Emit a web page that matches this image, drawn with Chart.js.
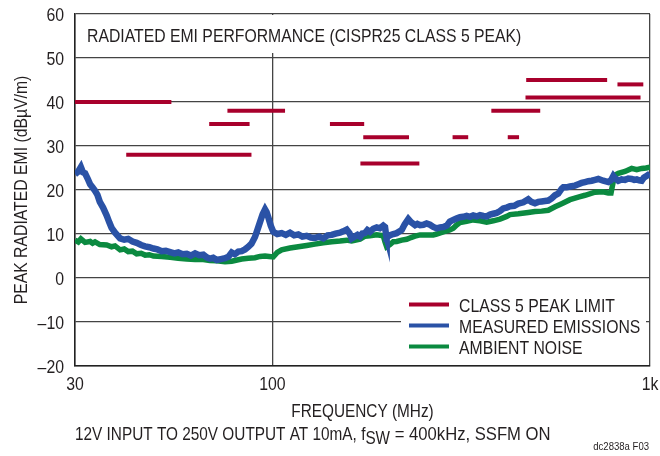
<!DOCTYPE html>
<html>
<head>
<meta charset="utf-8">
<script src="https://cdn.jsdelivr.net/npm/chart.js@4/dist/chart.umd.min.js"></script>
<style>
  html, body { margin: 0; padding: 0; background: #fff; }
  #chart-emi { display: block; }
</style>
</head>
<body>
<canvas id="chart-emi" width="660" height="456"></canvas>
<script>
// CISPR25 class 5 peak limit segments (MHz, dBuV/m)
const limitStart = [30, 41, 68, 76, 142, 171, 174, 300, 380, 420, 468, 470, 820];
const limitEnd   = [54, 88, 87, 108, 175, 245, 230, 330, 512, 450, 944, 770, 960];
const limitLevel = [40, 28, 35, 38, 35, 26, 32, 32, 38, 32, 41, 45, 44];

// measured emissions
const measuredFreq = [30, 30.6, 31.1, 31.5, 31.9, 32.4, 32.9, 33.4, 33.9, 34.4, 34.9, 35.6, 36.4, 37.0, 37.5, 38.3, 39.5, 40.5, 41.5, 42.6, 43.7, 44.9, 46.0, 47.2, 48.4, 49.6, 50.9, 52.2, 53.6, 55.0, 56.3, 57.8, 59.3, 60.8, 62.4, 64.0, 65.6, 67.0, 68.3, 69.7, 71.2, 73.0, 74.9, 76.4, 78.0, 79.5, 81.2, 82.9, 84.6, 86.3, 88.0, 89.9, 91.3, 92.7, 94.2, 95.6, 96.5, 97.5, 99.0, 100.5, 103, 105.8, 108.5, 111.3, 114.2, 117.1, 120, 123.2, 126.4, 129.6, 133, 136.4, 140, 143.5, 147, 151, 154, 157.3, 160, 162.1, 165, 168, 170.6, 173, 175.8, 178.5, 181.3, 185, 188.9, 192.5, 196.6, 198.7, 200, 200.7, 204.8, 209, 213.4, 220, 224, 229, 232.8, 238.6, 242, 246, 251, 256, 261.4, 266.7, 272.3, 278, 283.5, 289.5, 295, 301.3, 307, 313.8, 320, 326.9, 333.5, 340.3, 347.5, 354.5, 362, 369.3, 377, 384.5, 392.6, 400.6, 408.8, 417.3, 425.8, 437, 447.9, 462, 476, 485, 495.8, 506, 516.5, 527, 537.8, 548.8, 560.2, 571.6, 583.6, 589.3, 601, 613.9, 632.9, 645.8, 659, 672.7, 686, 700.8, 715, 729.5, 752, 775.5, 788.4, 799.6, 807.9, 824.3, 841, 858.6, 876, 894.4, 908, 922.3, 936, 950.6, 963, 976, 988, 1000];
const measuredLevel = [23.6, 24.2, 25.2, 24.0, 23.8, 22.6, 21.3, 20.6, 19.8, 18.9, 17.3, 16.0, 14.2, 12.6, 11.4, 10.3, 9.0, 8.7, 8.9, 8.3, 8.0, 7.5, 7.2, 7.0, 6.7, 6.5, 6.1, 6.2, 5.9, 5.6, 5.8, 5.4, 5.5, 5.1, 5.6, 5.2, 5.3, 4.7, 4.4, 4.6, 4.1, 4.3, 4.5, 4.8, 5.8, 5.4, 6.0, 6.1, 6.5, 7.1, 7.8, 9.3, 11.0, 12.7, 14.5, 15.6, 15.0, 13.8, 11.9, 10.5, 10.0, 10.2, 9.8, 10.3, 9.7, 9.9, 9.4, 9.6, 9.2, 9.1, 9.4, 9.0, 9.7, 9.8, 10.1, 10.3, 10.6, 11.0, 10.2, 9.0, 9.4, 9.8, 9.4, 10.1, 10.2, 10.9, 10.5, 11.2, 11.5, 11.3, 11.9, 11.6, 9.8, 9.3, 9.7, 10.0, 10.2, 10.9, 12.2, 13.4, 12.7, 12.0, 12.3, 12.0, 12.1, 12.4, 12.1, 11.6, 11.3, 11.5, 11.6, 11.9, 12.8, 13.2, 13.5, 13.8, 13.9, 14.1, 13.9, 14.2, 14.0, 14.3, 14.1, 14.0, 14.4, 14.6, 14.8, 15.2, 15.8, 16.0, 16.3, 16.4, 16.9, 17.2, 17.9, 17.3, 17.0, 17.3, 17.4, 17.5, 17.6, 18.1, 18.8, 19.2, 20.3, 20.6, 20.6, 20.8, 21.0, 21.3, 21.6, 21.8, 22.0, 22.1, 22.3, 22.5, 22.1, 21.8, 22.2, 23.2, 22.7, 22.1, 22.4, 22.3, 22.6, 22.5, 22.3, 22.4, 22.2, 22.1, 22.8, 23.1, 23.4, 23.7];

// ambient noise floor
const ambientFreq = [30, 30.6, 31.1, 31.9, 32.9, 33.4, 33.9, 34.9, 36.4, 37.5, 38.3, 39.5, 40.5, 41.5, 42.6, 43.7, 44.9, 46.0, 47.2, 48.4, 50.9, 53.6, 56.3, 59.3, 62.4, 65.6, 68.3, 71.2, 74.9, 78.0, 82.9, 86.3, 89.9, 92.7, 95.6, 98, 100.5, 103, 105.8, 111.3, 117.1, 123.2, 129.6, 136.4, 143.5, 151, 157.3, 162.1, 170.6, 175.8, 181.3, 188.9, 196.6, 198.7, 200.7, 204.8, 209, 213.4, 220, 226.8, 232.8, 238.6, 246, 256, 266.7, 272.3, 283.5, 295, 301.3, 307, 313.8, 326.9, 340.3, 354.5, 369.3, 384.5, 400.6, 417.3, 425.8, 447.9, 476, 495.8, 516.5, 537.8, 560.2, 583.6, 613.9, 645.8, 672.7, 715, 752, 775.5, 788.4, 799.6, 807.9, 824.3, 858.6, 894.4, 922.3, 950.6, 976, 1000];
const ambientLevel = [8.6, 8.2, 8.9, 8.1, 8.3, 7.9, 8.2, 7.6, 7.5, 7.1, 7.3, 6.4, 6.6, 6.0, 6.1, 5.5, 5.6, 5.2, 5.3, 5.0, 4.9, 4.7, 4.5, 4.3, 4.2, 4.2, 4.0, 3.9, 3.7, 3.8, 4.3, 4.5, 4.6, 4.9, 5.0, 4.9, 4.8, 5.8, 6.4, 6.8, 7.1, 7.4, 7.7, 8.0, 8.25, 8.4, 8.6, 8.4, 8.8, 9.5, 9.6, 9.8, 9.6, 8.2, 7.1, 7.6, 8.25, 8.3, 8.6, 8.8, 9.2, 9.5, 9.8, 9.8, 9.8, 10.0, 10.5, 10.9, 11.3, 12.0, 12.6, 12.9, 13.2, 13.0, 12.7, 13.0, 13.4, 14.0, 14.4, 14.6, 14.9, 15.1, 15.2, 15.4, 16.2, 16.9, 17.8, 18.4, 18.8, 19.5, 19.6, 19.3, 19.3, 22.0, 23.4, 23.8, 24.2, 24.9, 24.6, 24.9, 25.0, 25.2];

const xTicks = [30, 100, 1000];
const xTickLabels = ["30", "100", "1k"];
const yTicks = [60, 50, 40, 30, 20, 10, 0, -10, -20];
const yTickLabels = ["60", "50", "40", "30", "20", "10", "0", "\u201310", "\u201320"];

const legendLabels = ["CLASS 5 PEAK LIMIT", "MEASURED EMISSIONS", "AMBIENT NOISE"];

const COLORS = {
  limit: "#a8002c",
  measured: "#2a52a6",
  ambient: "#0b8a40",
  text: "#231f20",
  grid: "#444444",
};

// the original uses a condensed sans; squeeze Liberation Sans to look like it
const FONT = '"Liberation Sans", Arial, sans-serif';
const SQUEEZE = 0.83;

function narrowText(ctx, text, x, y, size, align = "left", sx = SQUEEZE) {
  ctx.save();
  ctx.font = `${size}px ${FONT}`;
  const w = ctx.measureText(text).width * sx;
  const left = align === "center" ? x - w / 2 : align === "right" ? x - w : x;
  ctx.translate(left, y);
  ctx.scale(sx, 1);
  ctx.textAlign = "left";
  ctx.textBaseline = "alphabetic";
  ctx.fillText(text, 0, 0);
  ctx.restore();
  return w;
}

const toPoints = (xs, ys) => xs.map((x, i) => ({ x, y: ys[i] }));

const limitSets = limitStart.map((start, i) => ({
  data: [{ x: start, y: limitLevel[i] }, { x: limitEnd[i], y: limitLevel[i] }],
  borderColor: COLORS.limit,
  borderWidth: 4,
  borderCapStyle: "butt",
  pointRadius: 0,
  order: 3,
}));

// tick labels, title box, legend and captions are drawn by hand
const decorations = {
  id: "decorations",
  beforeDatasetsDraw(chart) {
    const { ctx, chartArea: a } = chart;
    ctx.save();
    ctx.fillStyle = "#fff";
    ctx.fillRect(a.left + 1, a.top + 1, a.right - a.left - 2, 52 - a.top);
    ctx.fillStyle = COLORS.text;
    narrowText(ctx, "RADIATED EMI PERFORMANCE (CISPR25 CLASS 5 PEAK)", 87, 42, 19);
    ctx.restore();
  },
  afterDraw(chart) {
    const { ctx, chartArea: a, scales } = chart;
    ctx.save();
    ctx.fillStyle = COLORS.text;

    // tick labels
    xTicks.forEach((v, i) => {
      narrowText(ctx, xTickLabels[i], scales.x.getPixelForValue(v), 390, 18, "center", 0.88);
    });
    yTicks.forEach((v, i) => {
      narrowText(ctx, yTickLabels[i], 64, scales.y.getPixelForValue(v) + 6.5, 18, "right", 0.88);
    });

    // legend
    ctx.fillStyle = "#fff";
    ctx.fillRect(401, 292, 245, 64);
    const legendColors = [COLORS.limit, COLORS.measured, COLORS.ambient];
    const rows = [312, 333, 354];
    rows.forEach((base, i) => {
      ctx.fillStyle = legendColors[i];
      ctx.fillRect(409, base - 9.5, 40, 4);
      ctx.fillStyle = COLORS.text;
      narrowText(ctx, legendLabels[i], 459, base, 19);
    });

    // axis titles
    narrowText(ctx, "FREQUENCY (MHz)", (a.left + a.right) / 2, 417, 18.5, "center");

    ctx.save();
    ctx.translate(27, (a.top + a.bottom) / 2);
    ctx.rotate(-Math.PI / 2);
    narrowText(ctx, "PEAK RADIATED EMI (dBµV/m)", 0, 0, 19, "center");
    ctx.restore();

    // footer with subscript
    let x = 75;
    x += narrowText(ctx, "12V INPUT TO 250V OUTPUT AT 10mA, f", x, 440, 18.5);
    x += narrowText(ctx, "SW", x, 444, 18, "left", 0.85);
    narrowText(ctx, " = 400kHz, SSFM ON", x, 440, 18.5, "left", 0.9);

    narrowText(ctx, "dc2838a F03", 649, 450, 11.5, "right");

    ctx.restore();
  },
};

new Chart(document.getElementById("chart-emi").getContext("2d"), {
  type: "line",
  data: {
    datasets: [
      ...limitSets,
      {
        label: "AMBIENT NOISE",
        data: toPoints(ambientFreq, ambientLevel),
        borderColor: COLORS.ambient,
        borderWidth: 5.5,
        pointRadius: 0,
        tension: 0,
        order: 2,
      },
      {
        label: "MEASURED EMISSIONS",
        data: toPoints(measuredFreq, measuredLevel),
        borderColor: COLORS.measured,
        borderWidth: 6.5,
        pointRadius: 0,
        tension: 0,
        order: 1,
      },
    ],
  },
  options: {
    responsive: false,
    animation: false,
    devicePixelRatio: 1,
    layout: { padding: { top: 14, right: 10, left: 0, bottom: 0 } },
    plugins: { legend: { display: false }, tooltip: { enabled: false } },
    scales: {
      x: {
        type: "logarithmic",
        min: 30,
        max: 1000,
        afterBuildTicks: (s) => { s.ticks = xTicks.map((v) => ({ value: v })); },
        afterFit: (s) => { s.height = 90; s.paddingLeft = 0; s.paddingRight = 0; },
        grid: { color: COLORS.grid, lineWidth: 1.3, drawTicks: false },
        border: { color: "#222", width: 1.5 },
        ticks: { display: false },
      },
      y: {
        min: -20,
        max: 60,
        afterFit: (s) => { s.width = 75; s.paddingTop = 0; s.paddingBottom = 0; },
        grid: { color: COLORS.grid, lineWidth: 1.3, drawTicks: false },
        border: { color: "#222", width: 1.5 },
        ticks: { display: false, stepSize: 10 },
      },
    },
  },
  plugins: [decorations],
});
</script>
</body>
</html>
